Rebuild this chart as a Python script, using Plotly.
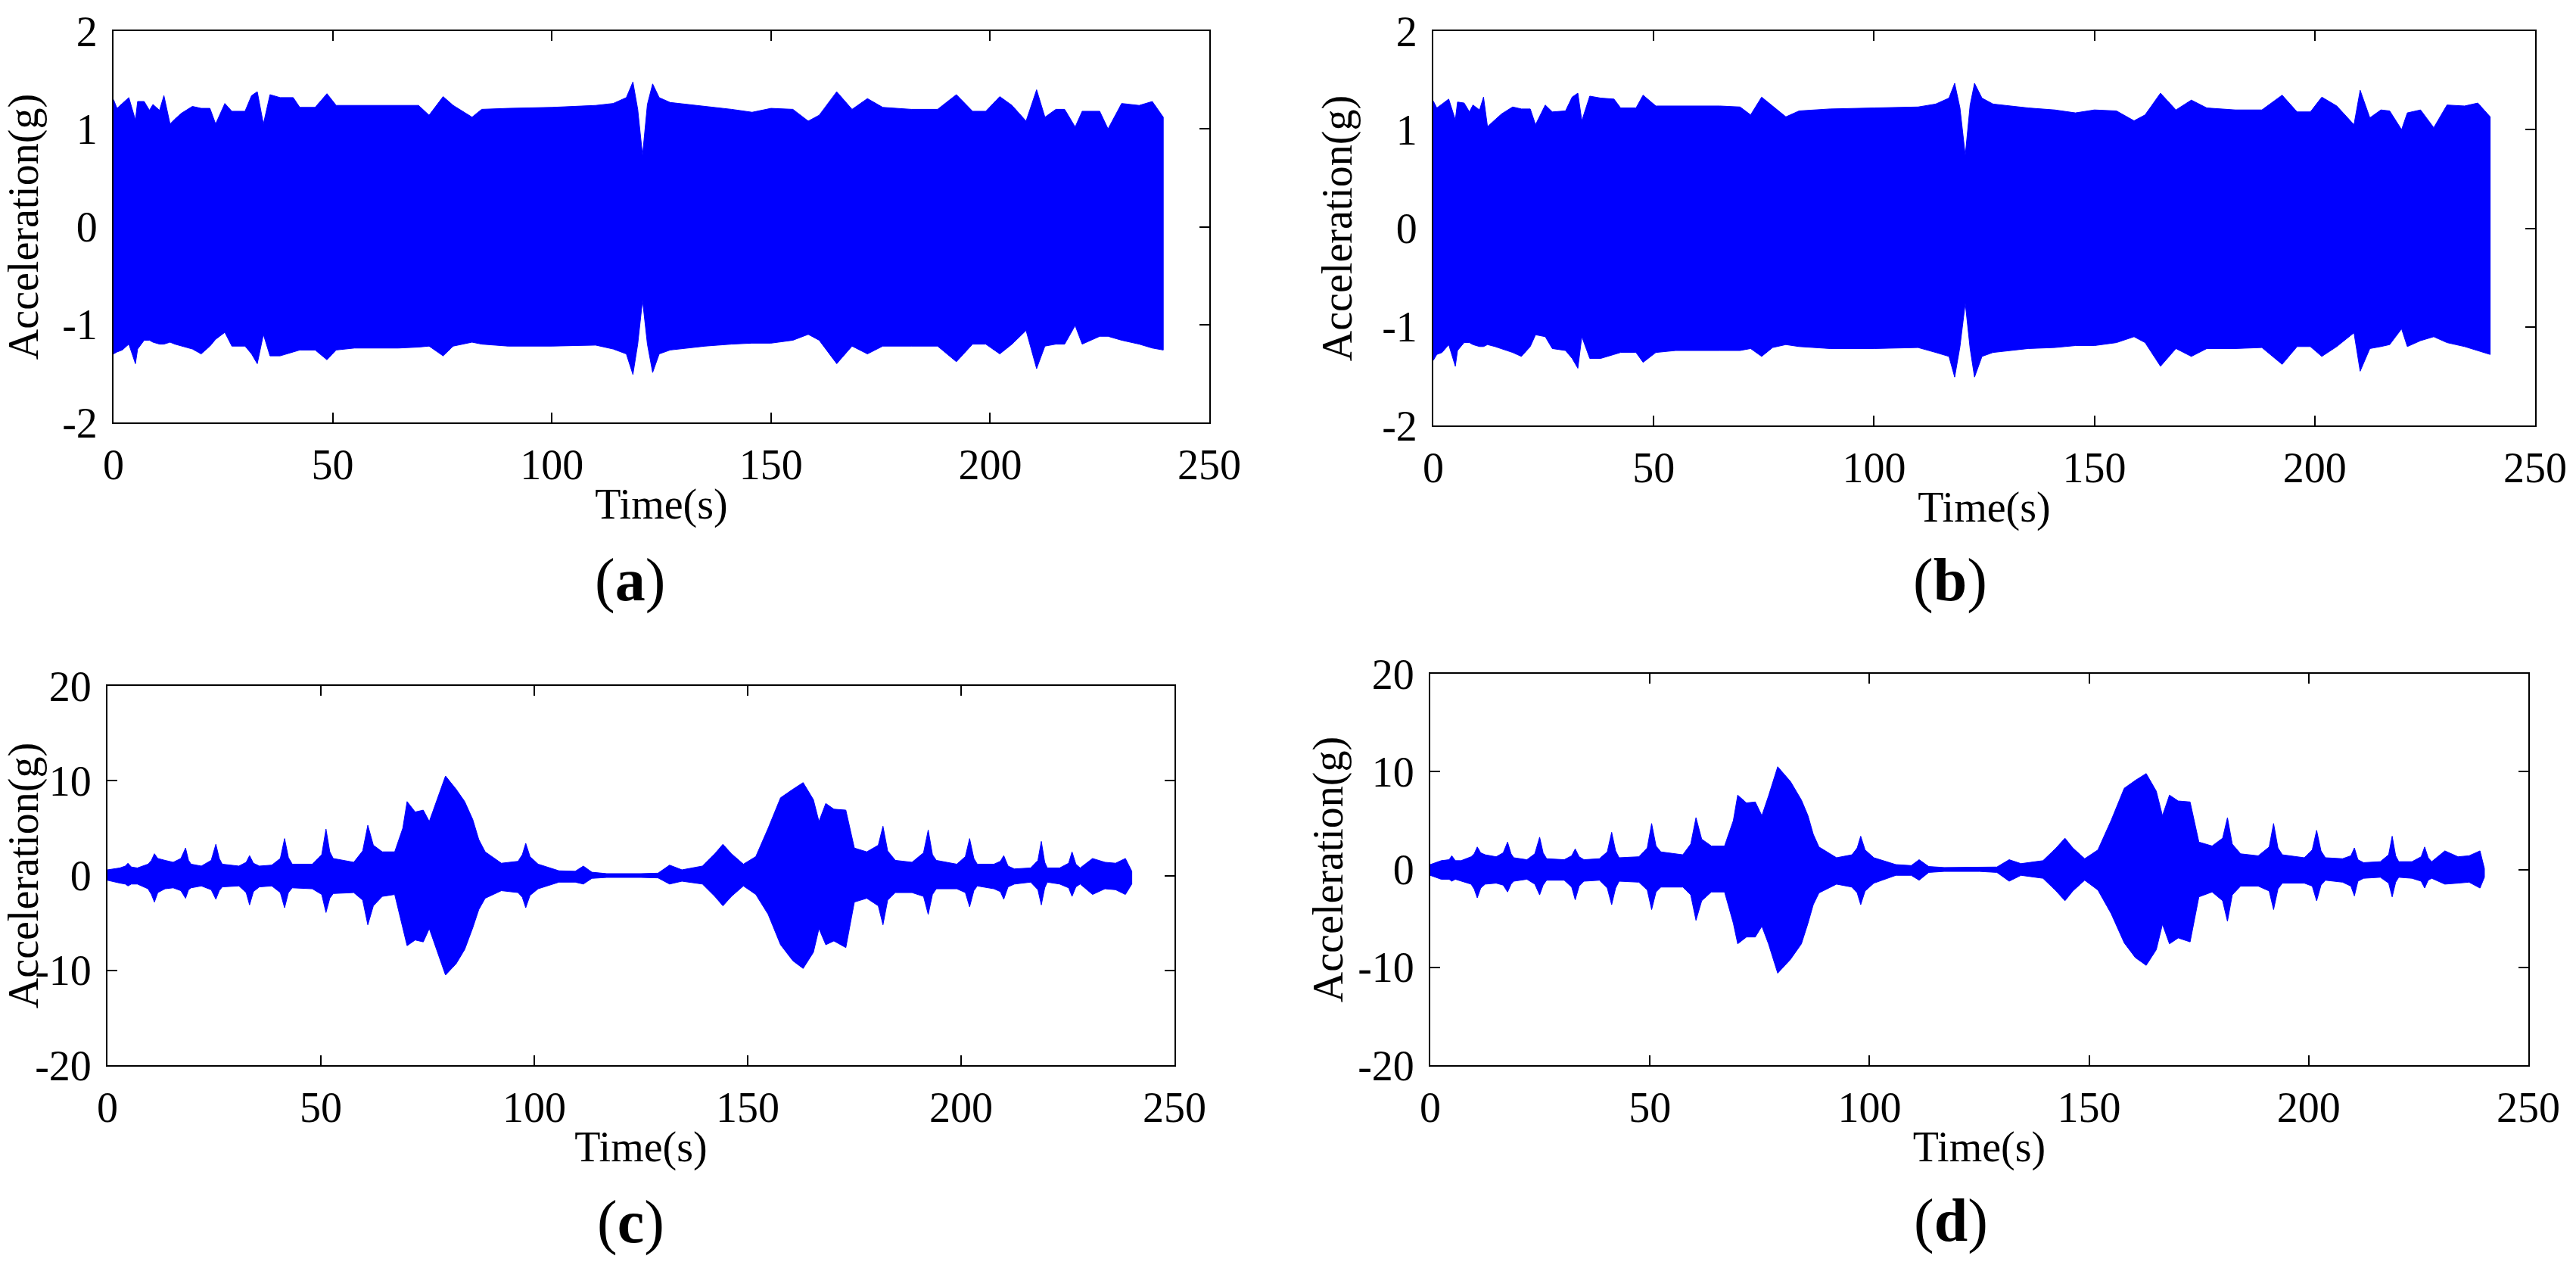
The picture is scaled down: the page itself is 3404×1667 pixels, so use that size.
import plotly.graph_objects as go

# ---------------- data (envelopes) ----------------
# panel (a)
t_a = [0, 0.8, 2, 3.5, 5.0, 5.5, 7, 8.2, 9, 10.5, 11.5, 12.9, 14, 15.5, 18, 20, 22, 23.3, 25.4, 27,
       30, 31.5, 32.8, 34.2, 35.7, 38, 41, 42.5, 46, 48.7, 50.8, 55, 60, 65, 69.6, 72, 75.2, 77.5, 81.8, 84,
       90, 100, 110, 114, 117, 118.5, 119.6, 120.7, 121.8, 123, 124.5, 127, 135, 141, 145.7, 150, 155, 158.5, 161, 165,
       168.5, 172, 175.5, 182, 188, 192.3, 196, 199, 202.2, 205, 208.2, 210.6, 212.5, 215, 217, 219.4, 221, 225, 226.9, 230,
       234, 237, 239.5]
up_a = [1.30, 1.21, 1.26, 1.32, 1.09, 1.28, 1.28, 1.19, 1.25, 1.19, 1.34, 1.05, 1.10, 1.16, 1.23, 1.21, 1.21, 1.05, 1.26, 1.18,
        1.18, 1.34, 1.38, 1.05, 1.35, 1.32, 1.32, 1.22, 1.22, 1.36, 1.24, 1.24, 1.24, 1.24, 1.24, 1.14, 1.33, 1.24, 1.12, 1.20,
        1.21, 1.22, 1.24, 1.26, 1.32, 1.48, 1.20, 0.73, 1.25, 1.46, 1.32, 1.27, 1.23, 1.20, 1.17, 1.21, 1.20, 1.08, 1.14, 1.38,
        1.20, 1.31, 1.22, 1.20, 1.20, 1.35, 1.18, 1.18, 1.33, 1.24, 1.08, 1.40, 1.12, 1.20, 1.20, 1.02, 1.18, 1.18, 1.00, 1.26,
        1.24, 1.28, 1.12]
lo_a = [-1.30, -1.28, -1.26, -1.20, -1.40, -1.25, -1.16, -1.16, -1.18, -1.20, -1.20, -1.18, -1.20, -1.22, -1.25, -1.30, -1.22, -1.15, -1.08, -1.22,
        -1.22, -1.30, -1.40, -1.10, -1.32, -1.32, -1.28, -1.26, -1.26, -1.36, -1.26, -1.24, -1.24, -1.24, -1.23, -1.22, -1.32, -1.22, -1.18, -1.20,
        -1.22, -1.22, -1.21, -1.25, -1.30, -1.51, -1.20, -0.75, -1.20, -1.49, -1.30, -1.26, -1.22, -1.20, -1.19, -1.19, -1.16, -1.10, -1.16, -1.40,
        -1.22, -1.30, -1.22, -1.22, -1.22, -1.38, -1.20, -1.20, -1.30, -1.20, -1.06, -1.45, -1.22, -1.20, -1.20, -1.01, -1.20, -1.12, -1.12, -1.16,
        -1.20, -1.24, -1.26]

# panel (b)
t_b = [0, 0.8, 2, 3.5, 5.0, 5.5, 7, 8.2, 9, 10.5, 11.4, 12.3, 14, 15.5, 18, 20, 22, 23.2, 25.4, 27,
       30, 31.5, 32.8, 33.7, 35.5, 38, 41, 42.5, 46, 47.6, 50.5, 55, 60, 65, 69.6, 72, 74.5, 77, 80, 83,
       90, 100, 110, 114, 117, 118.3, 119.5, 120.7, 121.8, 122.8, 124.5, 127, 135, 141, 145.7, 150, 155, 159, 161.5, 165,
       168.5, 172, 175.5, 182, 188, 192.6, 196, 199, 201.6, 205, 208.9, 210.3, 212.5, 215, 217, 219.7, 221, 224, 227, 230,
       234, 237, 239.8]
up_b = [1.29, 1.22, 1.26, 1.31, 1.10, 1.28, 1.27, 1.18, 1.25, 1.20, 1.33, 1.03, 1.10, 1.16, 1.23, 1.21, 1.21, 1.05, 1.25, 1.18,
        1.19, 1.33, 1.37, 1.09, 1.34, 1.32, 1.31, 1.22, 1.22, 1.35, 1.24, 1.24, 1.24, 1.24, 1.23, 1.15, 1.33, 1.24, 1.13, 1.19,
        1.21, 1.22, 1.23, 1.26, 1.32, 1.47, 1.22, 0.74, 1.25, 1.47, 1.32, 1.26, 1.22, 1.20, 1.17, 1.20, 1.19, 1.09, 1.15, 1.37,
        1.20, 1.30, 1.22, 1.20, 1.20, 1.35, 1.18, 1.18, 1.33, 1.24, 1.05, 1.40, 1.12, 1.20, 1.19, 1.00, 1.17, 1.20, 1.02, 1.25,
        1.24, 1.27, 1.13]
lo_b = [-1.34, -1.28, -1.26, -1.18, -1.40, -1.24, -1.16, -1.16, -1.18, -1.20, -1.20, -1.18, -1.20, -1.22, -1.26, -1.30, -1.20, -1.08, -1.10, -1.22,
        -1.24, -1.32, -1.42, -1.10, -1.32, -1.32, -1.28, -1.26, -1.26, -1.36, -1.26, -1.24, -1.24, -1.24, -1.24, -1.22, -1.30, -1.21, -1.18, -1.20,
        -1.22, -1.22, -1.21, -1.26, -1.30, -1.51, -1.20, -0.76, -1.22, -1.51, -1.30, -1.26, -1.22, -1.21, -1.19, -1.19, -1.16, -1.10, -1.16, -1.40,
        -1.22, -1.30, -1.22, -1.22, -1.21, -1.38, -1.20, -1.20, -1.30, -1.20, -1.06, -1.45, -1.22, -1.20, -1.18, -1.02, -1.20, -1.14, -1.10, -1.16,
        -1.20, -1.24, -1.28]

# panel (c)
t_c = [0, 2.9, 4.2, 4.8, 5.6, 7, 9.5, 10.3, 11, 11.8, 13.5, 15.4, 17.2, 18.3, 19.0, 19.6, 22, 24.3, 25.4, 26.2,
       26.9, 30.8, 32.5, 33.3, 34.2, 35.6, 38.5, 40.5, 41.5, 42.4, 43.3, 48, 50.2, 51.2, 52.1, 52.9, 57.7, 59.8, 61, 62.3,
       64.4, 67.3, 69.2, 70.2, 72.1, 74, 75.4, 76.9, 79.2, 81.7, 83.7, 85.6, 87.0, 88.5, 92.3, 96.2, 97.2, 98, 99.0, 100.9,
       105.8, 109.6, 111.5, 113.5, 117, 125, 129, 131.7, 134.6, 139.4, 142.3, 144.2, 146.2, 149, 151.9, 154.8, 157.7, 160.6, 163, 165.4,
       166.7, 168.3, 170.2, 173, 175, 177.9, 180.6, 181.7, 182.8, 184.6, 188.5, 191.2, 192.3, 193.3, 194.2, 199, 201.0, 202, 203.0, 203.8,
       207.7, 209.2, 210, 211, 212.5, 216.3, 218.0, 218.8, 219.6, 220.2, 223.1, 225.2, 226, 226.9, 227.9, 230.8, 233.7, 236.2, 238.5, 240]
up_c = [0.6, 0.8, 1.0, 1.3, 0.9, 0.8, 1.2, 1.6, 2.3, 1.8, 1.6, 1.4, 1.8, 2.9, 1.6, 1.2, 1.0, 1.6, 3.3, 1.8,
        1.2, 1.0, 1.4, 2.1, 1.3, 1.0, 1.1, 1.8, 3.9, 1.9, 1.2, 1.2, 2.2, 4.9, 2.5, 1.8, 1.4, 2.6, 5.3, 3.2,
        2.5, 2.5, 5.0, 7.8, 6.7, 6.9, 5.7, 7.6, 10.5, 9.1, 7.8, 5.9, 3.8, 2.5, 1.3, 1.5, 2.2, 3.4, 2.0, 1.2,
        0.5, 0.45, 1.0, 0.35, 0.2, 0.2, 0.25, 1.1, 0.6, 1.0, 2.3, 3.3, 2.3, 1.2, 2.0, 5.0, 8.2, 9.1, 9.8, 8.0,
        5.7, 7.6, 7.0, 6.9, 2.9, 2.5, 3.2, 5.2, 2.6, 1.6, 1.4, 2.4, 4.8, 2.2, 1.6, 1.2, 2.0, 3.9, 1.8, 1.2,
        1.2, 1.5, 2.1, 1.0, 0.7, 0.8, 1.6, 3.6, 1.4, 0.8, 0.8, 1.3, 2.5, 1.2, 0.8, 1.8, 1.4, 1.3, 1.8, 0.45]
lo_c = [-0.5, -0.8, -0.9, -1.1, -0.9, -0.9, -1.4, -2.0, -2.8, -1.8, -1.4, -1.3, -1.6, -2.4, -1.5, -1.3, -1.1, -1.5, -2.5, -1.6,
        -1.2, -1.1, -1.8, -3.1, -1.7, -1.2, -1.1, -1.8, -3.4, -1.8, -1.3, -1.4, -2.0, -3.9, -2.4, -1.9, -1.8, -2.6, -5.2, -3.2,
        -2.2, -2.0, -5.5, -7.4, -6.8, -7.0, -5.6, -7.6, -10.5, -9.3, -7.8, -5.5, -3.6, -2.4, -1.6, -1.8, -2.3, -3.4, -2.1, -1.4,
        -0.7, -0.7, -0.9, -0.3, -0.2, -0.2, -0.25, -0.9, -0.6, -0.9, -2.2, -3.2, -2.2, -1.1, -2.0, -4.1, -7.3, -9.0, -9.8, -8.1,
        -5.6, -7.3, -6.9, -7.6, -2.8, -2.4, -3.2, -5.2, -2.6, -1.8, -1.8, -2.2, -4.1, -2.0, -1.4, -1.4, -1.8, -3.3, -1.6, -1.1,
        -1.4, -1.7, -2.5, -1.2, -0.9, -0.7, -1.5, -3.1, -1.3, -0.7, -0.9, -1.3, -2.2, -1.2, -0.9, -2.0, -1.4, -1.5, -2.0, -0.9]

# panel (d)
t_d = [0, 2.5, 4.3, 4.9, 5.7, 7, 9.3, 10.0, 10.7, 11.5, 12.5, 15, 16.6, 17.6, 18.4, 19, 22, 23.8, 24.9, 25.7,
       26.5, 30.5, 32.2, 33, 33.9, 35, 38.5, 40.3, 41.3, 42.2, 43, 47.5, 49.4, 50.4, 51.4, 52.5, 57.5, 59.3, 60.5, 61.8,
       64, 67, 69, 70, 72, 74, 75.5, 77, 79.1, 82, 84.5, 86, 87.2, 88.5, 92.5, 96, 97.2, 98, 99.0, 101,
       106, 109.5, 111.3, 113.5, 117, 125, 129, 131.8, 134.5, 139.5, 142.5, 144.5, 146.3, 149, 152, 155, 158, 160.5, 163, 165.3,
       166.7, 168.3, 170.3, 173, 175, 178, 180.4, 181.5, 182.6, 184.5, 188.5, 191.0, 192, 193.0, 194, 199, 200.8, 201.8, 202.8, 203.8,
       207.7, 209.6, 210.4, 211.2, 212.5, 216.3, 218.2, 219, 219.8, 220.5, 223.5, 225.6, 226.4, 227.2, 228, 231, 234, 236.5, 239, 240]
up_d = [0.5, 0.9, 1.0, 1.4, 0.9, 0.9, 1.3, 1.6, 2.3, 1.7, 1.5, 1.3, 1.7, 2.8, 1.6, 1.2, 1.0, 1.6, 3.3, 1.7,
        1.1, 1.0, 1.4, 2.1, 1.3, 1.0, 1.1, 1.8, 3.8, 1.9, 1.2, 1.3, 2.2, 4.7, 2.4, 1.8, 1.5, 2.6, 5.3, 3.1,
        2.4, 2.4, 5.0, 7.6, 6.8, 6.9, 5.5, 7.5, 10.5, 9.0, 7.1, 5.5, 3.6, 2.3, 1.2, 1.5, 2.2, 3.4, 2.0, 1.2,
        0.5, 0.4, 1.0, 0.3, 0.2, 0.2, 0.25, 1.0, 0.6, 0.9, 2.2, 3.2, 2.2, 1.1, 2.0, 5.0, 8.3, 9.1, 9.8, 8.0,
        5.5, 7.6, 7.0, 6.9, 2.8, 2.4, 3.2, 5.3, 2.6, 1.6, 1.4, 2.3, 4.7, 2.2, 1.5, 1.2, 2.0, 4.0, 1.9, 1.2,
        1.1, 1.4, 2.2, 1.0, 0.7, 0.8, 1.5, 3.4, 1.4, 0.8, 0.8, 1.3, 2.3, 1.2, 0.8, 1.9, 1.3, 1.4, 1.9, 0.1]
lo_d = [-0.6, -1.0, -1.0, -1.2, -1.0, -1.2, -1.5, -2.0, -2.9, -1.9, -1.5, -1.4, -1.6, -2.3, -1.5, -1.2, -1.0, -1.5, -2.6, -1.6,
        -1.1, -1.1, -1.8, -3.1, -1.7, -1.2, -1.1, -1.9, -3.6, -1.9, -1.2, -1.3, -2.1, -4.1, -2.3, -1.8, -1.8, -2.6, -5.2, -3.2,
        -2.3, -2.3, -5.5, -7.6, -6.9, -6.9, -5.8, -7.6, -10.6, -9.2, -7.6, -5.5, -3.6, -2.4, -1.5, -1.8, -2.4, -3.6, -2.2, -1.4,
        -0.6, -0.6, -1.1, -0.3, -0.2, -0.2, -0.3, -1.2, -0.6, -0.9, -2.2, -3.2, -2.2, -1.1, -2.1, -4.5, -7.5, -9.0, -9.8, -8.2,
        -5.6, -7.6, -7.0, -7.4, -2.8, -2.3, -3.2, -5.3, -2.6, -1.7, -1.7, -2.2, -4.1, -2.0, -1.4, -1.4, -1.7, -3.2, -1.6, -1.1,
        -1.3, -1.7, -2.7, -1.2, -0.9, -0.8, -1.4, -2.8, -1.3, -0.8, -0.9, -1.2, -1.9, -1.1, -0.9, -1.5, -1.4, -1.3, -1.9, -0.8]

x_tickvals = [0, 50, 100, 150, 200, 250]
x_ticktext = ["0", "50", "100", "150", "200", "250"]
y_tickvals_top = [-2, -1, 0, 1, 2]
y_ticktext_top = ["-2", "-1", "0", "1", "2"]
y_tickvals_bot = [-20, -10, 0, 10, 20]
y_ticktext_bot = ["-20", "-10", "0", "10", "20"]
panel_labels = ["(<b>a</b>)", "(<b>b</b>)", "(<b>c</b>)", "(<b>d</b>)"]
x_title = "Time(s)"
y_title = "Acceleration(g)"

# ---------------- figure ----------------
W, H = 3404, 1667
FONT = "Liberation Serif, Times New Roman, serif"
BLUE = "#0000FF"

# pixel boxes (left, right, top, bottom)
boxes = [(150, 1598, 41, 558), (1894, 3350, 41, 562), (142, 1552, 906, 1407), (1890, 3341, 890, 1407)]
series = [(t_a, up_a, lo_a), (t_b, up_b, lo_b), (t_c, up_c, lo_c), (t_d, up_d, lo_d)]
yranges = [[-2, 2], [-2, 2], [-20, 20], [-20, 20]]
ytv = [y_tickvals_top, y_tickvals_top, y_tickvals_bot, y_tickvals_bot]
ytt = [y_ticktext_top, y_ticktext_top, y_ticktext_bot, y_ticktext_bot]
ystand = [22, 22, 2, 2]
label_pos = [(832, 766), (2577, 766), (833, 1614), (2578, 1612)]

fig = go.Figure()
layout = dict(template="none", width=W, height=H, autosize=False,
              margin=dict(l=0, r=0, t=0, b=0, pad=0), paper_bgcolor="white",
              plot_bgcolor="white", showlegend=False, font=dict(family=FONT, size=56, color="black"))

for i, ((l, r, t, b), (tt, up, lo)) in enumerate(zip(boxes, series)):
    n = "" if i == 0 else str(i + 1)
    xs = list(tt) + list(tt)[::-1]
    ys = list(up) + list(lo)[::-1]
    fig.add_trace(go.Scatter(x=xs, y=ys, mode="lines", fill="toself", fillcolor=BLUE,
                             line=dict(color=BLUE, width=1), xaxis="x" + n, yaxis="y" + n,
                             hoverinfo="skip"))
    common = dict(showline=True, linecolor="black", linewidth=2, mirror="ticks", ticks="inside",
                  ticklen=13, tickwidth=2, tickcolor="black", showgrid=False, zeroline=False,
                  automargin=False, layer="below traces",
                  tickfont=dict(family=FONT, size=56, color="black"))
    layout["xaxis" + n] = dict(domain=[l / W, r / W], range=[0, 250], anchor="y" + n,
                               tickmode="array", tickvals=x_tickvals, ticktext=x_ticktext,
                               ticklabelstandoff=6,
                               title=dict(text=x_title, font=dict(family=FONT, size=56), standoff=2),
                               **common)
    layout["yaxis" + n] = dict(domain=[1 - b / H, 1 - t / H], range=yranges[i], anchor="x" + n,
                               tickmode="array", tickvals=ytv[i], ticktext=ytt[i],
                               ticklabelstandoff=8,
                               title=dict(text=y_title, font=dict(family=FONT, size=56), standoff=ystand[i]),
                               **common)

annotations = []
for lab, (cx, cy) in zip(panel_labels, label_pos):
    annotations.append(dict(text=lab, x=cx / W, y=1 - cy / H, xref="paper", yref="paper",
                            showarrow=False, xanchor="center", yanchor="middle",
                            font=dict(family=FONT, size=80, color="black")))
layout["annotations"] = annotations
fig.update_layout(**layout)
fig.write_html("out.html", config={"displayModeBar": False},
               post_script="document.body.style.margin='0';")
